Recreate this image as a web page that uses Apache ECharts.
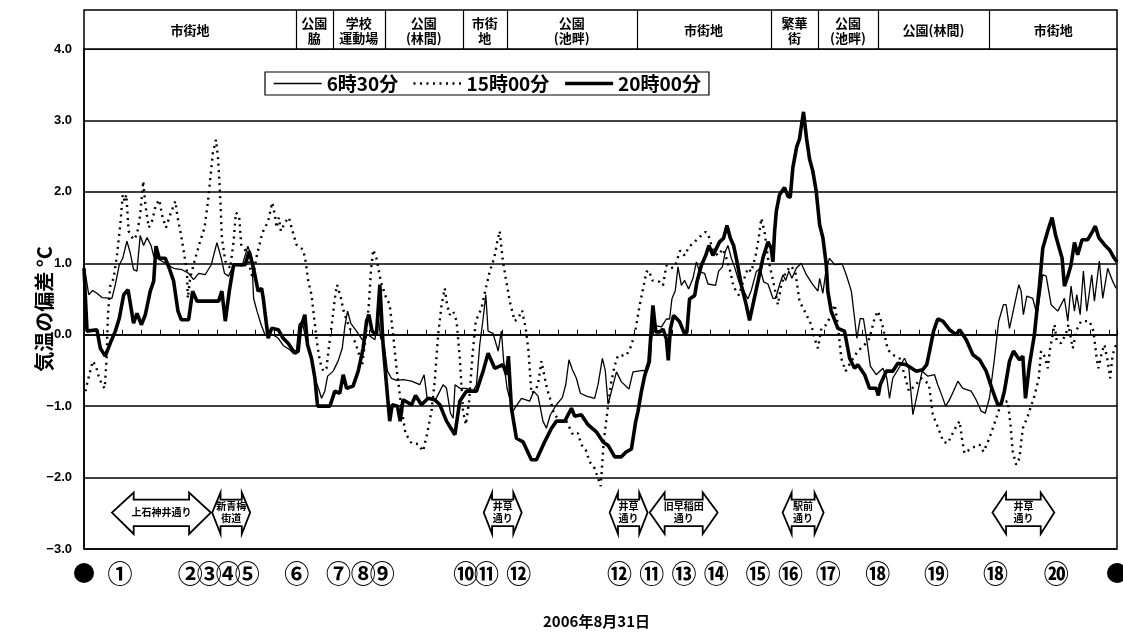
<!DOCTYPE html>
<html><head><meta charset="utf-8">
<script src="https://cdn.jsdelivr.net/npm/echarts@6/dist/echarts.min.js"></script>
<style>html,body{margin:0;padding:0;background:#fff}#main{width:1123px;height:633px}</style>
</head><body><div id="main"></div>
<script>
// x values: position along the route in tick-interval units; y values: temperature deviation (°C)
const seriesNames = ['6時30分', '15時00分', '20時00分'];
const yTicks = [-3, -2, -1, 0, 1, 2, 3, 4];
const xMax = 54.4;

const thin0630 = [[0.0,0.98],[0.25,0.56],[0.46,0.62],[0.68,0.58],[0.95,0.52],[1.47,0.51],[1.65,0.70],[1.86,0.98],[2.04,1.07],[2.26,1.31],[2.44,1.14],[2.61,0.91],[2.79,0.89],[2.96,1.39],[3.14,1.25],[3.32,1.36],[3.53,1.25],[3.67,1.10],[4.28,1.0],[4.72,0.93],[5.16,0.91],[5.51,0.86],[5.77,0.77],[6.04,0.86],[6.38,0.84],[6.7,0.98],[7.0,1.29],[7.23,1.07],[7.4,0.86],[7.61,0.82],[7.88,0.98],[8.32,0.96],[8.63,1.24],[8.84,1.07],[8.93,0.51],[9.11,0.33],[9.33,0.14],[9.53,0.0],[9.96,0.0],[10.23,-0.05],[10.49,-0.15],[10.84,-0.21],[11.02,-0.26],[11.19,-0.21],[11.32,0.14],[11.49,0.19],[11.67,-0.05],[11.95,-0.33],[12.16,-0.61],[12.37,-0.77],[12.51,-0.89],[12.68,-0.79],[12.83,-0.58],[13.12,-0.51],[13.38,-0.37],[13.6,-0.19],[13.74,0.12],[13.88,0.33],[14.05,0.16],[14.35,0.05],[14.65,-0.07],[14.96,0.0],[15.32,-0.07],[15.5,0.25],[15.62,-0.05],[15.81,-0.14],[15.98,-0.51],[16.19,-0.61],[16.46,-0.64],[16.81,-0.63],[17.25,-0.65],[17.68,-0.70],[17.91,-0.56],[18.08,-0.91],[18.3,-0.89],[18.47,-0.93],[18.74,-0.79],[18.91,-0.70],[19.09,-0.75],[19.3,-1.10],[19.44,-1.17],[19.54,-0.70],[19.79,-0.75],[20.14,-0.75],[20.49,-0.79],[20.67,-0.70],[20.84,-0.14],[21.02,0.23],[21.16,0.56],[21.28,0.05],[21.54,0.02],[21.81,-0.23],[21.98,0.05],[22.1,-0.37],[22.28,-0.75],[22.59,-1.07],[22.81,-0.98],[23.04,-0.89],[23.47,-0.93],[23.68,-0.79],[23.91,-0.86],[24.17,-1.21],[24.35,-1.31],[24.56,-1.12],[24.88,-0.98],[25.19,-0.88],[25.37,-0.70],[25.54,-0.35],[25.72,-0.49],[25.93,-0.61],[26.14,-0.82],[26.46,-0.86],[26.89,-0.89],[27.07,-0.70],[27.3,-0.33],[27.45,-0.5],[27.6,-0.97],[27.77,-0.80],[28.04,-0.52],[28.3,-0.66],[28.7,-0.76],[28.91,-0.52],[29.44,-0.50],[29.65,-0.52],[29.83,-0.38],[29.91,0.04],[30.05,0.13],[30.41,0.11],[30.67,0.22],[30.84,0.22],[30.96,0.50],[31.14,0.62],[31.28,0.95],[31.46,0.69],[31.63,0.76],[31.84,0.64],[32.07,0.79],[32.25,1.02],[32.42,0.88],[32.68,0.86],[32.86,0.71],[33.26,0.69],[33.42,0.89],[33.62,0.95],[33.77,1.16],[33.91,1.25],[34.09,1.07],[34.26,0.95],[34.49,0.74],[34.7,0.64],[34.96,0.50],[35.14,0.62],[35.4,0.88],[35.61,0.93],[35.79,0.74],[36.02,0.71],[36.28,0.51],[36.42,0.51],[36.63,0.70],[36.81,0.84],[36.95,0.76],[37.12,0.89],[37.28,0.79],[37.51,0.93],[37.77,1.0],[38.04,0.84],[38.38,0.70],[38.65,0.61],[38.74,0.79],[38.91,0.58],[39.09,0.93],[39.26,1.07],[39.53,0.98],[39.93,0.99],[40.14,0.84],[40.41,0.61],[40.58,0.23],[40.7,-0.05],[40.88,0.23],[41.05,0.22],[41.23,-0.09],[41.41,-0.44],[41.72,-0.56],[42.07,-0.47],[42.28,-0.61],[42.42,-0.89],[42.59,-0.61],[42.86,-0.49],[43.21,-0.33],[43.44,-0.47],[43.65,-1.12],[43.86,-0.86],[44.14,-0.51],[44.44,-0.58],[44.79,-0.56],[44.96,-0.70],[45.19,-0.86],[45.37,-1.0],[45.54,-0.93],[45.67,-0.86],[46.02,-0.65],[46.28,-0.75],[46.72,-0.79],[46.98,-0.91],[47.25,-1.07],[47.46,-1.10],[47.68,-0.89],[47.95,-0.33],[48.17,0.19],[48.42,0.42],[48.56,0.42],[48.74,0.09],[48.95,0.35],[49.23,0.70],[49.35,0.61],[49.47,0.28],[49.65,0.54],[49.96,0.51],[50.19,0.28],[50.35,0.56],[50.49,0.84],[50.67,0.82],[50.93,0.42],[51.28,0.33],[51.63,0.51],[51.81,0.19],[51.98,0.68],[52.16,0.33],[52.28,0.56],[52.46,0.28],[52.63,0.89],[52.81,0.33],[53.07,0.84],[53.21,0.47],[53.47,1.03],[53.65,0.51],[53.91,0.93],[54.17,0.75],[54.35,0.65]];

const dot1500 = [[0.07,-0.79],[0.28,-0.56],[0.46,-0.37],[0.63,-0.44],[0.77,-0.58],[0.95,-0.70],[1.09,-0.75],[1.19,-0.33],[1.26,0.28],[1.38,0.68],[1.56,0.79],[1.74,1.12],[1.91,1.54],[2.04,1.96],[2.14,1.87],[2.23,1.96],[2.35,1.45],[2.61,1.33],[2.79,1.40],[2.96,1.68],[3.12,2.15],[3.23,1.82],[3.41,1.50],[3.58,1.59],[3.79,1.82],[3.96,1.89],[4.14,1.64],[4.32,1.50],[4.54,1.68],[4.81,1.87],[4.93,1.64],[5.11,1.40],[5.25,1.17],[5.42,0.89],[5.47,0.51],[5.59,0.79],[5.86,1.07],[6.12,1.31],[6.35,1.50],[6.53,1.87],[6.79,2.55],[6.95,2.73],[7.05,2.5],[7.12,2.20],[7.19,1.82],[7.26,1.36],[7.44,1.03],[7.7,0.93],[7.88,1.31],[8.0,1.71],[8.17,1.66],[8.28,1.26],[8.53,1.17],[8.75,0.93],[8.88,0.79],[9.11,1.12],[9.37,1.40],[9.44,1.45],[9.7,1.59],[9.91,1.85],[10.05,1.68],[10.14,1.50],[10.26,1.64],[10.37,1.45],[10.58,1.57],[10.79,1.64],[10.96,1.47],[11.19,1.26],[11.54,1.19],[11.67,1.03],[11.81,0.75],[11.98,0.56],[12.12,0.23],[12.26,-0.09],[12.42,-0.37],[12.6,-0.51],[12.77,-0.47],[12.89,-0.19],[13.07,0.19],[13.21,0.51],[13.33,0.70],[13.53,0.51],[13.7,0.30],[14.0,0.09],[14.35,-0.16],[14.65,-0.42],[14.83,-0.05],[15.0,0.42],[15.11,0.89],[15.23,1.19],[15.4,1.07],[15.63,0.75],[15.88,0.54],[16.1,0.42],[16.28,0.0],[16.46,-0.47],[16.72,-1.03],[16.93,-1.38],[17.25,-1.52],[17.59,-1.53],[17.86,-1.63],[18.09,-1.36],[18.3,-1.07],[18.47,-0.65],[18.65,0.0],[18.83,0.42],[19.0,0.65],[19.12,0.42],[19.26,0.28],[19.44,0.33],[19.62,0.19],[19.79,-0.33],[19.96,-1.07],[20.11,-1.26],[20.28,-0.93],[20.46,-0.28],[20.63,0.19],[20.93,0.37],[21.16,0.65],[21.37,0.89],[21.6,1.07],[21.77,1.31],[21.89,1.45],[22.04,1.07],[22.21,0.79],[22.42,0.47],[22.68,0.19],[22.86,0.23],[23.07,0.34],[23.26,0.09],[23.41,-0.23],[23.56,-0.82],[23.74,-0.79],[23.91,-0.70],[24.09,-0.37],[24.23,-0.56],[24.38,-0.75],[24.56,-0.91],[24.74,-1.10],[25.05,-1.21],[25.4,-1.21],[25.75,-1.40],[26.02,-1.38],[26.19,-1.54],[26.42,-1.61],[26.63,-1.78],[26.89,-1.87],[27.21,-2.12],[27.37,-1.5],[27.6,-0.99],[27.77,-0.66],[27.95,-0.43],[28.12,-0.29],[28.56,-0.29],[28.83,-0.15],[29.05,0.08],[29.26,0.41],[29.44,0.64],[29.62,0.88],[29.75,0.90],[29.93,0.76],[30.32,0.74],[30.49,0.69],[30.67,0.97],[30.88,0.93],[31.11,0.95],[31.4,1.18],[31.63,1.11],[31.86,1.23],[32.16,1.30],[32.51,1.39],[32.74,1.44],[32.91,1.37],[33.12,1.18],[33.38,1.11],[33.65,1.20],[33.83,1.07],[34.04,0.88],[34.21,0.67],[34.49,0.55],[34.67,0.71],[34.96,0.93],[35.14,0.88],[35.37,1.11],[35.53,1.35],[35.67,1.63],[35.84,1.44],[36.02,1.07],[36.28,0.77],[36.54,0.42],[36.72,0.70],[36.98,0.89],[37.25,0.96],[37.47,0.86],[37.68,0.47],[37.95,0.33],[38.3,0.14],[38.47,-0.05],[38.65,-0.19],[38.83,0.09],[39.09,0.14],[39.35,0.28],[39.53,0.42],[39.7,0.14],[39.88,-0.33],[40.11,-0.51],[40.41,-0.37],[40.75,-0.23],[41.11,-0.14],[41.37,-0.05],[41.63,0.23],[41.81,0.33],[42.04,0.14],[42.33,-0.21],[42.59,-0.28],[42.95,-0.33],[43.21,-0.56],[43.44,-0.79],[43.74,-0.72],[44.09,-0.61],[44.49,-0.69],[44.7,-1.12],[44.96,-1.29],[45.26,-1.50],[45.49,-1.52],[45.84,-1.33],[46.11,-1.21],[46.23,-1.45],[46.37,-1.66],[46.72,-1.59],[47.16,-1.54],[47.37,-1.64],[47.68,-1.45],[48.04,-1.17],[48.3,-0.96],[48.65,-0.93],[48.79,-1.26],[48.91,-1.64],[49.09,-1.82],[49.26,-1.73],[49.44,-1.31],[49.7,-1.14],[50.05,-0.86],[50.28,-0.61],[50.4,-0.23],[50.58,-0.30],[50.75,-0.47],[50.88,-0.19],[51.11,0.14],[51.23,-0.09],[51.46,-0.12],[51.72,0.02],[51.84,0.14],[52.07,-0.19],[52.28,0.07],[52.51,0.19],[52.95,0.19],[53.16,0.05],[53.33,-0.33],[53.42,-0.47],[53.62,-0.23],[53.74,-0.14],[53.91,-0.37],[54.04,-0.61],[54.17,-0.28],[54.35,-0.14]];

const thick2000 = [[0.0,0.93],[0.16,0.05],[0.68,0.07],[0.86,-0.19],[1.12,-0.30],[1.38,-0.12],[1.65,0.05],[1.86,0.23],[2.09,0.56],[2.32,0.63],[2.61,0.16],[2.79,0.30],[3.02,0.14],[3.23,0.28],[3.49,0.61],[3.67,0.75],[3.79,1.24],[3.96,1.07],[4.28,1.07],[4.49,0.93],[4.72,0.75],[4.95,0.33],[5.12,0.21],[5.51,0.21],[5.72,0.61],[5.95,0.47],[7.09,0.47],[7.26,0.61],[7.44,0.19],[7.65,0.61],[7.88,0.98],[8.49,0.98],[8.7,1.17],[8.93,0.93],[9.17,0.61],[9.35,0.65],[9.44,0.51],[9.61,0.14],[9.7,-0.05],[9.88,0.09],[10.23,0.07],[10.49,-0.05],[10.75,-0.12],[11.1,-0.26],[11.28,-0.23],[11.4,0.09],[11.63,0.28],[11.77,-0.14],[11.98,-0.33],[12.16,-0.61],[12.3,-1.0],[12.95,-1.0],[13.21,-0.79],[13.47,-0.82],[13.65,-0.56],[13.83,-0.75],[14.17,-0.72],[14.44,-0.51],[14.7,-0.19],[14.88,0.19],[15.0,0.28],[15.17,0.05],[15.4,0.0],[15.58,0.70],[15.75,-0.14],[15.93,-0.70],[16.1,-1.21],[16.23,-0.98],[16.51,-1.0],[16.65,-1.21],[16.8,-0.91],[17.25,-0.98],[17.46,-0.85],[17.77,-0.98],[18.12,-0.89],[18.47,-0.91],[18.74,-0.98],[19.09,-1.21],[19.53,-1.40],[19.79,-0.93],[20.14,-0.79],[20.67,-0.79],[21.02,-0.51],[21.28,-0.26],[21.63,-0.47],[22.07,-0.42],[22.25,-0.56],[22.35,-0.30],[22.51,-1.03],[22.77,-1.45],[23.12,-1.50],[23.56,-1.75],[23.83,-1.75],[24.26,-1.50],[24.62,-1.31],[24.88,-1.21],[25.32,-1.21],[25.67,-1.03],[25.84,-1.14],[26.19,-1.12],[26.54,-1.26],[26.98,-1.36],[27.33,-1.50],[27.6,-1.55],[27.95,-1.71],[28.3,-1.71],[28.56,-1.64],[28.83,-1.60],[29.05,-1.22],[29.17,-1.08],[29.35,-0.80],[29.53,-0.57],[29.75,-0.38],[29.96,0.41],[30.11,0.04],[30.32,0.04],[30.49,0.08],[30.67,-0.06],[30.77,-0.36],[30.88,0.08],[31.05,0.27],[31.37,0.18],[31.63,0.01],[31.75,0.04],[31.89,0.50],[32.16,0.55],[32.28,0.74],[32.51,0.97],[32.74,1.11],[32.91,1.25],[33.12,1.11],[33.47,1.30],[33.68,1.35],[33.86,1.53],[34.04,1.35],[34.21,1.25],[34.39,1.02],[34.62,0.69],[34.88,0.41],[35.05,0.20],[35.26,0.46],[35.49,0.74],[35.75,1.07],[36.02,1.30],[36.19,1.21],[36.28,1.02],[36.37,1.45],[36.46,1.73],[36.63,1.96],[36.89,2.06],[37.07,1.94],[37.19,1.92],[37.33,2.34],[37.53,2.63],[37.68,2.74],[37.89,3.12],[38.05,2.75],[38.21,2.46],[38.38,2.29],[38.56,2.01],[38.74,1.54],[38.91,1.36],[39.09,0.98],[39.17,0.61],[39.35,0.33],[39.7,0.09],[40.05,0.05],[40.32,-0.33],[40.58,-0.47],[40.75,-0.42],[41.11,-0.56],[41.37,-0.75],[41.72,-0.75],[41.83,-0.85],[41.93,-0.70],[42.25,-0.51],[42.59,-0.51],[42.86,-0.40],[43.3,-0.42],[43.83,-0.51],[44.17,-0.49],[44.38,-0.42],[44.53,-0.23],[44.74,0.05],[44.96,0.22],[45.23,0.19],[45.58,0.07],[45.93,0.0],[46.11,0.07],[46.46,-0.07],[46.81,-0.28],[47.16,-0.35],[47.51,-0.51],[47.86,-0.79],[48.12,-0.98],[48.3,-0.97],[48.47,-0.79],[48.74,-0.37],[48.95,-0.23],[49.26,-0.35],[49.44,-0.30],[49.58,-0.89],[49.79,-0.42],[50.05,0.0],[50.32,0.70],[50.49,1.21],[50.75,1.45],[50.98,1.64],[51.16,1.40],[51.33,1.24],[51.51,1.07],[51.63,0.68],[51.81,0.82],[51.98,0.98],[52.16,1.29],[52.33,1.12],[52.56,1.33],[52.86,1.33],[53.12,1.45],[53.26,1.52],[53.44,1.36],[53.74,1.26],[54.0,1.19],[54.26,1.07],[54.4,1.02]];

// Land-use zones along the top (boundaries in x units)
const zoneBounds = [0, 11.16, 13.1, 15.84, 19.95, 22.26, 29.1, 36.16, 38.68, 41.79, 47.68, xMax];
const zoneLabels = ['市街地', '公園\n脇', '学校\n運動場', '公園\n(林間)', '市街\n地', '公園\n(池畔)', '市街地', '繁華\n街', '公園\n(池畔)', '公園(林間)', '市街地'];

// Crossing streets (double arrows)
const roadLabels = ['上石神井通り', '新青梅\n街道', '井草\n通り', '井草\n通り', '旧早稲田\n通り', '駅前\n通り', '井草\n通り'];
const roadStart = [1.47, 6.75, 21.05, 27.68, 29.79, 36.79, 47.84];
const roadEnd   = [6.68, 8.75, 23.05, 29.68, 33.37, 38.95, 51.1];

// Point markers under the axis
const pointLabels = ['●','①','②','③','④','⑤','⑥','⑦','⑧','⑨','⑩','⑪','⑫','⑫','⑪','⑬','⑭','⑮','⑯','⑰','⑱','⑲','⑱','⑳','●'];
const pointPos = [0,1.9,5.6,6.6,7.6,8.6,11.2,13.4,14.7,15.7,20.1,21.2,22.9,28.2,29.9,31.6,33.3,35.5,37.2,39.2,41.8,44.9,48.0,51.2,54.4];

const dateLabel = '2006年8月31日';
const yName = '気温の偏差 °C';

const FONT = '"Noto Sans CJK JP", "Noto Sans", sans-serif';
const chart = echarts.init(document.getElementById('main'), null, {renderer: 'canvas'});

const lineStyles = [
  {color: '#000', width: 1.3},
  {color: '#000', width: 2.4, type: [2, 4.5], cap: 'butt'},
  {color: '#000', width: 3.6}
];
const series = [thin0630, dot1500, thick2000].map((d, i) => ({
  name: seriesNames[i], type: 'line', data: d, showSymbol: false, symbol: 'none', z: [3, 2, 4][i],
  lineStyle: lineStyles[i], itemStyle: {color: '#000'}
}));

const option = {
  animation: false,
  backgroundColor: '#fff',
  grid: {left: 84, right: 6, top: 49, bottom: 84, show: true, borderColor: '#000', borderWidth: 1.5},
  legend: {
    left: 265, top: 72, orient: 'horizontal',
    data: seriesNames.map((n, i) => ({name: n, lineStyle: Object.assign({}, lineStyles[i])})),
    itemWidth: 48, itemHeight: 10, itemGap: 14,
    padding: [2, 8],
    itemStyle: {opacity: 0},
    borderColor: '#000', borderWidth: 1.2, backgroundColor: '#fff',
    textStyle: {fontFamily: FONT, fontSize: 19, fontWeight: 'bold', color: '#000'}
  },
  xAxis: {
    type: 'value', min: 0, max: xMax, interval: 1,
    axisLine: {show: true, lineStyle: {color: '#000', width: 1.5}},
    axisTick: {show: true, inside: true, length: 5, lineStyle: {color: '#000', width: 1}},
    axisLabel: {show: false},
    splitLine: {show: false}
  },
  yAxis: {
    type: 'value', min: yTicks[0], max: yTicks[yTicks.length - 1], interval: 1,
    name: yName, nameLocation: 'middle', nameRotate: 90, nameGap: 30, nameMoveOverlap: false,
    nameTextStyle: {fontFamily: FONT, fontSize: 20, fontWeight: 'bold', color: '#000', padding: [0, 20, 0, 0]},
    axisLine: {show: true, lineStyle: {color: '#000', width: 1.5}},
    axisTick: {show: false},
    axisLabel: {
      margin: 12, fontFamily: 'Liberation Sans, Arial, sans-serif', fontSize: 13, fontWeight: 'bold', color: '#000',
      formatter: v => v.toFixed(1).replace('-', '\u2212')
    },
    splitLine: {show: true, lineStyle: {color: '#000', width: 1.5}}
  },
  series: series
};
chart.setOption(option);

const px = u => chart.convertToPixel({xAxisIndex: 0}, u);
const py = v => chart.convertToPixel({yAxisIndex: 0}, v);
const g = [];
// header band
const hTop = 10, hBot = py(4);
g.push({type: 'rect', shape: {x: px(0), y: hTop, width: px(xMax) - px(0), height: hBot - hTop},
  style: {fill: '#fff', stroke: '#000', lineWidth: 1.5}, z: 10});
for (let i = 1; i < zoneBounds.length - 1; i++) {
  const x = Math.round(px(zoneBounds[i])) + 0.5;
  g.push({type: 'line', shape: {x1: x, y1: hTop, x2: x, y2: hBot}, style: {stroke: '#000', lineWidth: 1.2}, z: 11});
}
zoneLabels.forEach((t, i) => {
  const cx = (px(zoneBounds[i]) + px(zoneBounds[i + 1])) / 2;
  g.push({type: 'text', x: cx, y: (hTop + hBot) / 2 + 1, z: 12,
    style: {text: t, font: 'bold 13px ' + FONT, fill: '#000', align: 'center', verticalAlign: 'middle', lineHeight: 15}});
});
// road arrows
const ym = py(-2.49), ht = py(-2.21), hb = py(-2.79), st = py(-2.31), sb = py(-2.68);
roadLabels.forEach((t, i) => {
  const x0 = px(roadStart[i]), x1 = px(roadEnd[i]);
  const h = Math.min(23, (x1 - x0) * 0.22);
  g.push({type: 'polygon', z: 10,
    shape: {points: [[x0, ym], [x0 + h, ht], [x0 + h, st], [x1 - h, st], [x1 - h, ht], [x1, ym], [x1 - h, hb], [x1 - h, sb], [x0 + h, sb], [x0 + h, hb]]},
    style: {fill: '#fff', stroke: '#000', lineWidth: 1.8}});
  g.push({type: 'text', x: (x0 + x1) / 2, y: ym, z: 11,
    style: {text: t, font: 'bold 10px ' + FONT, fill: '#000', align: 'center', verticalAlign: 'middle', lineHeight: 12}});
});
// point markers
const markY = 573;
pointLabels.forEach((t, i) => {
  const x = px(pointPos[i]);
  if (t === '●') {
    g.push({type: 'circle', shape: {cx: x, cy: markY, r: 10}, style: {fill: '#000'}, z: 10});
  } else {
    g.push({type: 'text', x: x, y: markY, z: 10,
      style: {text: t, font: 'bold 25px ' + FONT, fill: '#000', align: 'center', verticalAlign: 'middle'}});
  }
});
g.push({type: 'text', x: (px(0) + px(xMax)) / 2 - 4, y: 621, z: 10,
  style: {text: dateLabel, font: 'bold 15px ' + FONT, fill: '#000', align: 'center', verticalAlign: 'middle'}});
chart.setOption({graphic: g});
</script>
</body></html>
